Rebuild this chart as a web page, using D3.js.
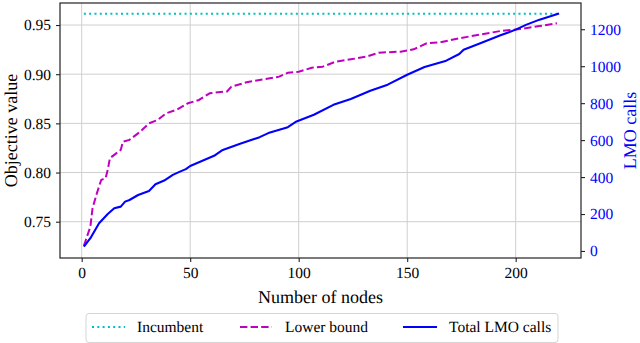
<!DOCTYPE html>
<html>
<head>
<meta charset="utf-8">
<script src="https://cdn.jsdelivr.net/npm/d3@7"></script>
<style>
	html, body { margin: 0; padding: 0; background: #fff; }
	svg text { font-family: 'Liberation Serif', 'DejaVu Serif', serif; }
</style>
</head>
<body>
<div class="chart"></div>
<script>
// Incumbent value, constant over all nodes
var incumbentNodes = [1, 220];
var incumbentValue = 0.9615;

// Lower bound (left axis)
var lowerNodes = [1, 4, 5, 7, 9, 11, 12, 13, 15, 18, 19, 22, 27, 31, 35, 39, 44, 49, 54, 59,
	64, 67, 69, 76, 84, 91, 95, 100, 106, 111, 117, 124, 131, 137, 147, 153, 159, 165, 174,
	184, 193, 202, 211, 219];
var lowerValues = [0.7254, 0.745, 0.7637, 0.779, 0.7925, 0.7942, 0.8027, 0.8146, 0.818, 0.823,
	0.8314, 0.8332, 0.8416, 0.850, 0.8535, 0.8603, 0.8640, 0.8705, 0.8738, 0.8806, 0.8820,
	0.8825, 0.8873, 0.8918, 0.8948, 0.8975, 0.9015, 0.9025, 0.9065, 0.9076, 0.9127, 0.9151,
	0.9178, 0.9219, 0.9229, 0.9253, 0.9314, 0.9324, 0.9365, 0.9405, 0.9439, 0.9459, 0.9490,
	0.9517];

// Total LMO calls (right axis)
var lmoNodes = [1, 4, 8, 12, 15, 18, 20, 22, 26, 31, 34, 38, 42, 45, 48, 50, 61, 65, 73, 82,
	86, 95, 99, 107, 116, 124, 133, 141, 150, 158, 168, 174, 176, 184, 193, 200, 205, 211, 220];
var lmoValues = [23, 69, 150, 200, 231, 240, 267, 276, 303, 325, 361, 381, 412, 428, 443, 460,
	515, 547, 580, 616, 638, 670, 701, 737, 791, 822, 867, 900, 954, 996, 1030, 1066, 1089,
	1126, 1167, 1198, 1225, 1252, 1285];

var xTicks = [0, 50, 100, 150, 200];
var leftTicks = [0.75, 0.80, 0.85, 0.90, 0.95];
var rightTicks = [0, 200, 400, 600, 800, 1000, 1200];
var legendLabels = ['Incumbent', 'Lower bound', 'Total LMO calls'];

var cyan = '#00bfbf',
	magenta = '#bf00bf',
	blue = '#0000ff',
	gridColor = '#cfcfcf',
	axisColor = '#222',
	textColor = '#000',
	fontFamily = 'Liberation Serif';

var width = 640, height = 343;
var plot = {left: 60, right: 581, top: 3, bottom: 258};

var x = d3.scaleLinear().domain([-10, 230.1]).range([plot.left, plot.right]);
var y = d3.scaleLinear().domain([0.7131, 0.9724]).range([plot.bottom, plot.top]);
var y2 = d3.scaleLinear().domain([-38, 1342]).range([plot.bottom, plot.top]);

var svg = d3.select('.chart').append('svg')
	.attr('width', width)
	.attr('height', height)
	.attr('font-family', fontFamily)
	.attr('text-rendering', 'geometricPrecision');

// Grid lines first, so they sit under everything
svg.append('g').selectAll('line')
	.data(xTicks).enter().append('line')
	.attr('x1', function(d) { return x(d); })
	.attr('x2', function(d) { return x(d); })
	.attr('y1', plot.top)
	.attr('y2', plot.bottom)
	.attr('stroke', gridColor)
	.attr('stroke-width', 1);
svg.append('g').selectAll('line')
	.data(leftTicks).enter().append('line')
	.attr('x1', plot.left)
	.attr('x2', plot.right)
	.attr('y1', function(d) { return y(d); })
	.attr('y2', function(d) { return y(d); })
	.attr('stroke', gridColor)
	.attr('stroke-width', 1);

// The three series
var incumbentLine = d3.line()
	.x(function(d) { return x(d); })
	.y(function() { return y(incumbentValue); });
svg.append('path')
	.attr('d', incumbentLine(incumbentNodes))
	.attr('fill', 'none')
	.attr('stroke', cyan)
	.attr('stroke-width', 2)
	.attr('stroke-dasharray', '2,3.3');

var lowerLine = d3.line()
	.x(function(d) { return x(d); })
	.y(function(d, i) { return y(lowerValues[i]); });
svg.append('path')
	.attr('d', lowerLine(lowerNodes))
	.attr('fill', 'none')
	.attr('stroke', magenta)
	.attr('stroke-width', 2)
	.attr('stroke-dasharray', '7.4,3.2');

var lmoLine = d3.line()
	.x(function(d) { return x(d); })
	.y(function(d, i) { return y2(lmoValues[i]); });
svg.append('path')
	.attr('d', lmoLine(lmoNodes))
	.attr('fill', 'none')
	.attr('stroke', blue)
	.attr('stroke-width', 2.1)
	.attr('stroke-linejoin', 'round');

// Frame
svg.append('rect')
	.attr('x', plot.left)
	.attr('y', plot.top)
	.attr('width', plot.right - plot.left)
	.attr('height', plot.bottom - plot.top)
	.attr('fill', 'none')
	.attr('stroke', axisColor)
	.attr('stroke-width', 1.2);

// Axes
var xAxis = svg.append('g')
	.attr('transform', 'translate(0,' + plot.bottom + ')')
	.call(d3.axisBottom(x).tickValues(xTicks).tickSize(4).tickPadding(5));
var yAxis = svg.append('g')
	.attr('transform', 'translate(' + plot.left + ',0)')
	.call(d3.axisLeft(y).tickValues(leftTicks).tickSize(4).tickPadding(5)
		.tickFormat(d3.format('.2f')));
var y2Axis = svg.append('g')
	.attr('transform', 'translate(' + plot.right + ',0)')
	.call(d3.axisRight(y2).tickValues(rightTicks).tickSize(4).tickPadding(5)
		.tickFormat(d3.format('d')));
[xAxis, yAxis, y2Axis].forEach(function(a) {
	a.select('.domain').remove();
	a.attr('font-family', fontFamily).attr('font-size', '15.5px');
	a.selectAll('.tick line').attr('stroke', axisColor).attr('stroke-width', 1.1);
	a.selectAll('.tick text').attr('fill', textColor);
});
y2Axis.selectAll('.tick text').attr('fill', blue);

// Axis labels
svg.append('text')
	.attr('x', (plot.left + plot.right) / 2)
	.attr('y', 303)
	.attr('text-anchor', 'middle')
	.attr('font-size', '18px')
	.attr('fill', textColor)
	.text('Number of nodes');
svg.append('text')
	.attr('transform', 'translate(17,' + (plot.top + plot.bottom) / 2 + ') rotate(-90)')
	.attr('text-anchor', 'middle')
	.attr('font-size', '18px')
	.attr('fill', textColor)
	.text('Objective value');
svg.append('text')
	.attr('transform', 'translate(636,' + (plot.top + plot.bottom) / 2 + ') rotate(-90)')
	.attr('text-anchor', 'middle')
	.attr('font-size', '18px')
	.attr('fill', blue)
	.text('LMO calls');

// Legend underneath the plot
var legend = svg.append('g');
legend.append('rect')
	.attr('x', 86)
	.attr('y', 313.5)
	.attr('width', 472)
	.attr('height', 29)
	.attr('rx', 3)
	.attr('fill', '#fff')
	.attr('stroke', '#d5d5d5')
	.attr('stroke-width', 1);
var legendStyles = [
	{color: cyan, dash: '2,3.3', x1: 92, x2: 125, tx: 137},
	{color: magenta, dash: '7.4,3.2', x1: 240, x2: 272, tx: 285},
	{color: blue, dash: null, x1: 403, x2: 437, tx: 449}
];
legendLabels.forEach(function(label, i) {
	var s = legendStyles[i];
	legend.append('line')
		.attr('x1', s.x1)
		.attr('x2', s.x2)
		.attr('y1', 327)
		.attr('y2', 327)
		.attr('stroke', s.color)
		.attr('stroke-width', 2)
		.attr('stroke-dasharray', s.dash);
	legend.append('text')
		.attr('x', s.tx)
		.attr('y', 332)
		.attr('font-size', '15.5px')
		.attr('fill', textColor)
		.text(label);
});
</script>
</body>
</html>
